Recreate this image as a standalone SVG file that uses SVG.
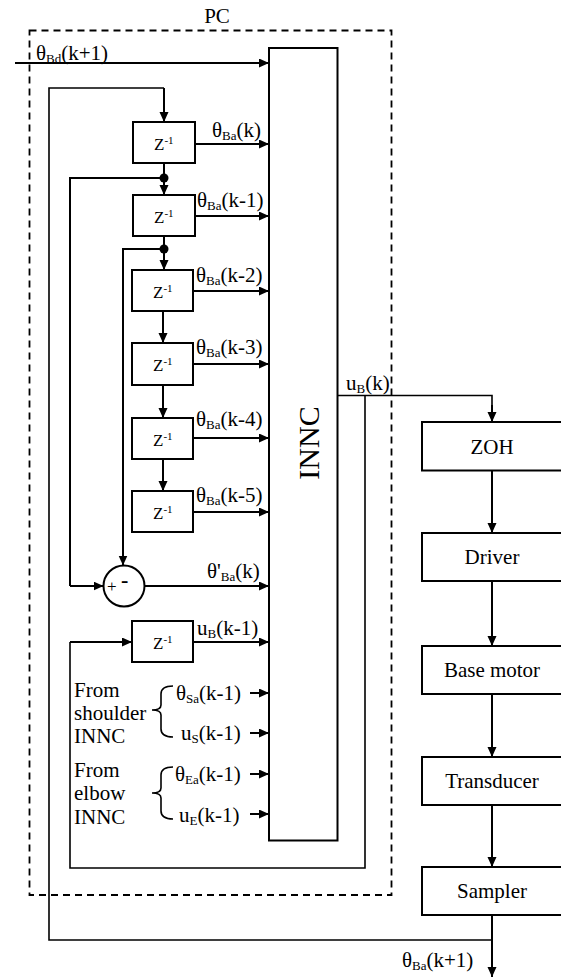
<svg xmlns="http://www.w3.org/2000/svg" width="561" height="979" viewBox="0 0 561 979" font-family="Liberation Serif, DejaVu Serif, serif">
<style>
text{font-family:'Liberation Serif','DejaVu Serif',serif;fill:#000;font-size:21px}
.box{fill:#fff;stroke:#000;stroke-width:2}
.ln{fill:none;stroke:#000;stroke-width:2}
.th{fill:none;stroke:#000;stroke-width:1.6}
.z{font-size:17px}
.sup{font-size:11px}
.sub{font-size:13px}
.mid{text-anchor:middle}
</style>
<defs>
<marker id="ah" markerUnits="userSpaceOnUse" markerWidth="10" markerHeight="10" refX="10" refY="4.5" orient="auto">
<path d="M0,0 L10,4.5 L0,9 z" fill="#000"/>
</marker>
</defs>
<g id="pc">
<rect x="29.5" y="30.5" width="362" height="864.5" fill="none" stroke="#000" stroke-width="1.8" stroke-dasharray="7,5"/>
<text class="mid" x="217" y="23">PC</text>
</g>
<g id="innc">
<rect class="box" x="269" y="48" width="68.5" height="792.5" stroke-width="1.6"/>
<text style="font-size:30px" class="mid" transform="translate(319,443) rotate(-90)">INNC</text>
</g>
<g id="z1"><rect class="box" x="133" y="122" width="62" height="41"/><text class="z" x="154" y="150">Z<tspan class="sup" dy="-6">-1</tspan></text></g>
<g id="z2"><rect class="box" x="133" y="195" width="62" height="41"/><text class="z" x="154" y="223">Z<tspan class="sup" dy="-6">-1</tspan></text></g>
<g id="z3"><rect class="box" x="132" y="270" width="61" height="41"/><text class="z" x="153" y="298">Z<tspan class="sup" dy="-6">-1</tspan></text></g>
<g id="z4"><rect class="box" x="132" y="343" width="61" height="42"/><text class="z" x="153" y="371">Z<tspan class="sup" dy="-6">-1</tspan></text></g>
<g id="z5"><rect class="box" x="132" y="418" width="61" height="41"/><text class="z" x="153" y="446">Z<tspan class="sup" dy="-6">-1</tspan></text></g>
<g id="z6"><rect class="box" x="132" y="491" width="61" height="41"/><text class="z" x="153" y="519">Z<tspan class="sup" dy="-6">-1</tspan></text></g>
<g id="z7"><rect class="box" x="132" y="621" width="61" height="41"/><text class="z" x="153" y="649">Z<tspan class="sup" dy="-6">-1</tspan></text></g>
<g id="adder">
<circle cx="124" cy="586" r="20.5" fill="#fff" stroke="#000" stroke-width="2"/>
<text x="107" y="592" style="font-size:17px">+</text>
<text x="121" y="587" style="font-size:22px;font-weight:bold">-</text>
</g>
<g id="zoh"><rect class="box" x="422" y="422" width="141" height="48.5"/><text class="mid" x="492" y="454">ZOH</text></g>
<g id="driver"><rect class="box" x="422" y="533" width="141" height="48"/><text class="mid" x="492" y="564">Driver</text></g>
<g id="motor"><rect class="box" x="422" y="646" width="141" height="48"/><text class="mid" x="492" y="677">Base motor</text></g>
<g id="transducer"><rect class="box" x="422" y="757" width="141" height="48"/><text class="mid" x="492" y="788">Transducer</text></g>
<g id="sampler"><rect class="box" x="422" y="867" width="141" height="48"/><text class="mid" x="492" y="898">Sampler</text></g>
<g id="sources">
<text x="74" y="697">From</text>
<text x="74" y="720">shoulder</text>
<text x="74" y="743">INNC</text>
<text x="74" y="777">From</text>
<text x="74" y="800">elbow</text>
<text x="74" y="824">INNC</text>
<path class="th" d="M173,686 Q161,686 161,694 L161,705 Q161,710 152,710 Q161,710 161,715 L161,729 Q161,737 173,737"/>
<path class="th" d="M173,767 Q161,767 161,775 L161,788 Q161,793 152,793 Q161,793 161,798 L161,811 Q161,819 173,819"/>
</g>
<g id="connectors">
<line class="ln" x1="15" y1="63" x2="269" y2="63" marker-end="url(#ah)"/>
<polyline class="th" points="492,940 49,940 49,88 164,88"/>
<line class="ln" x1="164" y1="88" x2="164" y2="122" marker-end="url(#ah)"/>
<line class="ln" x1="164" y1="163" x2="164" y2="195" marker-end="url(#ah)"/>
<circle cx="164" cy="178" r="4.5"/>
<polyline class="ln" points="164,178 70,178 70,586"/>
<line class="ln" x1="70" y1="586" x2="103.5" y2="586" marker-end="url(#ah)"/>
<line class="ln" x1="164" y1="236" x2="164" y2="270" marker-end="url(#ah)"/>
<circle cx="164" cy="249" r="4.5"/>
<polyline class="ln" points="164,249 123,249"/>
<line class="ln" x1="123" y1="248" x2="123" y2="565.5" marker-end="url(#ah)"/>
<line class="ln" x1="163" y1="311" x2="163" y2="343" marker-end="url(#ah)"/>
<line class="ln" x1="163" y1="385" x2="163" y2="418" marker-end="url(#ah)"/>
<line class="ln" x1="163" y1="459" x2="163" y2="491" marker-end="url(#ah)"/>
<line class="ln" x1="195" y1="144" x2="269" y2="144" marker-end="url(#ah)"/>
<line class="ln" x1="195" y1="216" x2="269" y2="216" marker-end="url(#ah)"/>
<line class="ln" x1="193" y1="291" x2="269" y2="291" marker-end="url(#ah)"/>
<line class="ln" x1="193" y1="364" x2="269" y2="364" marker-end="url(#ah)"/>
<line class="ln" x1="193" y1="438" x2="269" y2="438" marker-end="url(#ah)"/>
<line class="ln" x1="193" y1="512" x2="269" y2="512" marker-end="url(#ah)"/>
<line class="ln" x1="144.5" y1="586" x2="269" y2="586" marker-end="url(#ah)"/>
<line class="ln" x1="193" y1="642" x2="269" y2="642" marker-end="url(#ah)"/>
<line class="ln" x1="250" y1="693" x2="269" y2="693" marker-end="url(#ah)"/>
<line class="ln" x1="250" y1="733" x2="269" y2="733" marker-end="url(#ah)"/>
<line class="ln" x1="250" y1="774" x2="269" y2="774" marker-end="url(#ah)"/>
<line class="ln" x1="250" y1="814" x2="269" y2="814" marker-end="url(#ah)"/>
<polyline class="th" points="337.5,395.5 492,395.5 492,412"/>
<line class="ln" x1="492" y1="405" x2="492" y2="422" marker-end="url(#ah)"/>
<polyline class="th" points="365,395.5 365,868 70,868 70,642"/>
<line class="ln" x1="70" y1="642" x2="132" y2="642" marker-end="url(#ah)"/>
<line class="ln" x1="492" y1="470.5" x2="492" y2="533" marker-end="url(#ah)"/>
<line class="ln" x1="492" y1="581" x2="492" y2="646" marker-end="url(#ah)"/>
<line class="ln" x1="492" y1="694" x2="492" y2="757" marker-end="url(#ah)"/>
<line class="ln" x1="492" y1="805" x2="492" y2="867" marker-end="url(#ah)"/>
<line class="ln" x1="492" y1="915" x2="492" y2="977" marker-end="url(#ah)"/>
</g>
<g id="labels">
<text x="36" y="60">θ<tspan class="sub" dy="3">Bd</tspan><tspan dy="-3">(k+1)</tspan></text>
<text x="212" y="137">θ<tspan class="sub" dy="3">Ba</tspan><tspan dy="-3">(k)</tspan></text>
<text x="197" y="207">θ<tspan class="sub" dy="3">Ba</tspan><tspan dy="-3">(k-1)</tspan></text>
<text x="196" y="282">θ<tspan class="sub" dy="3">Ba</tspan><tspan dy="-3">(k-2)</tspan></text>
<text x="196" y="354">θ<tspan class="sub" dy="3">Ba</tspan><tspan dy="-3">(k-3)</tspan></text>
<text x="196" y="426">θ<tspan class="sub" dy="3">Ba</tspan><tspan dy="-3">(k-4)</tspan></text>
<text x="196" y="502">θ<tspan class="sub" dy="3">Ba</tspan><tspan dy="-3">(k-5)</tspan></text>
<text x="207" y="578">θ'<tspan class="sub" dy="3">Ba</tspan><tspan dy="-3">(k)</tspan></text>
<text x="197" y="635">u<tspan class="sub" dy="3">B</tspan><tspan dy="-3">(k-1)</tspan></text>
<text x="176" y="700">θ<tspan class="sub" dy="3">Sa</tspan><tspan dy="-3">(k-1)</tspan></text>
<text x="181" y="740">u<tspan class="sub" dy="3">S</tspan><tspan dy="-3">(k-1)</tspan></text>
<text x="175" y="781">θ<tspan class="sub" dy="3">Ea</tspan><tspan dy="-3">(k-1)</tspan></text>
<text x="179" y="822">u<tspan class="sub" dy="3">E</tspan><tspan dy="-3">(k-1)</tspan></text>
<text x="346" y="390">u<tspan class="sub" dy="3">B</tspan><tspan dy="-3">(k)</tspan></text>
<text x="402" y="967">θ<tspan class="sub" dy="3">Ba</tspan><tspan dy="-3">(k+1)</tspan></text>
</g>
</svg>
